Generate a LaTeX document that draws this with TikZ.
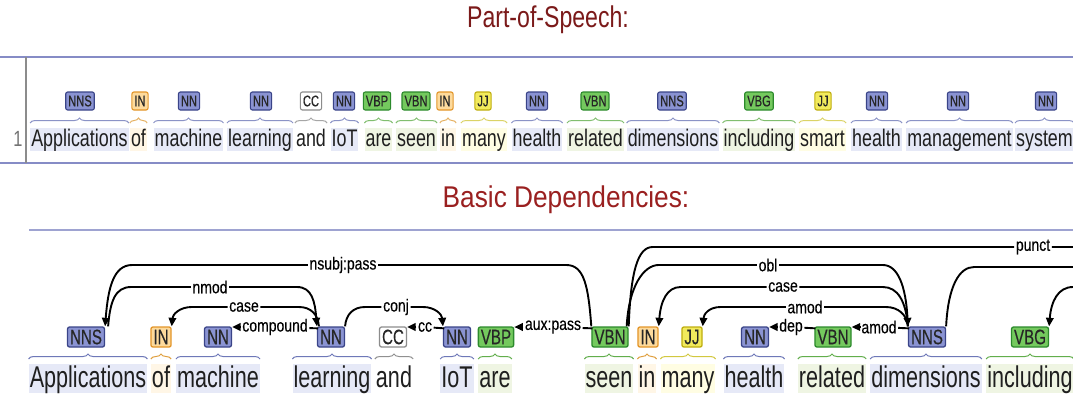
\documentclass[tikz,border=0pt]{standalone}
\usepackage{fontspec}
\setmainfont{Liberation Sans}
\newfontfamily\wordfA[FakeStretch=0.745]{Liberation Sans}
\newfontfamily\wordfB[FakeStretch=0.72]{Liberation Sans}
\newfontfamily\tagfam[FakeStretch=0.72,FakeBold=0.3]{Liberation Sans}
\newfontfamily\lblfam[FakeStretch=0.8,FakeBold=0.3]{Liberation Sans}
\newfontfamily\titfA[FakeStretch=0.77]{Liberation Sans}
\newfontfamily\titfB[FakeStretch=0.875]{Liberation Sans}
\usetikzlibrary{calc,arrows.meta,decorations.pathreplacing}
\definecolor{nnF}{HTML}{8A93D2}\definecolor{nnD}{HTML}{3A4488}
\definecolor{vbF}{HTML}{74C95E}\definecolor{vbD}{HTML}{2C8A2C}
\definecolor{inF}{HTML}{FDDA9C}\definecolor{inD}{HTML}{E3962A}
\definecolor{jjF}{HTML}{F2EA5C}\definecolor{jjD}{HTML}{BFAE10}
\definecolor{ccF}{HTML}{FFFFFF}\definecolor{ccD}{HTML}{8C8C8C}
\definecolor{nnB}{HTML}{E6E9F7}\definecolor{vbB}{HTML}{EFF5E3}
\definecolor{inB}{HTML}{FFF6E6}\definecolor{jjB}{HTML}{FFFDE3}
\definecolor{nnR}{HTML}{6E78B8}\definecolor{vbR}{HTML}{62AE4C}
\definecolor{inR}{HTML}{E0A040}\definecolor{jjR}{HTML}{D2C840}
\definecolor{ccR}{HTML}{909090}
\definecolor{titA}{HTML}{7B1A1A}\definecolor{titB}{HTML}{9A2020}
\definecolor{sepC}{HTML}{868CC6}
\newcommand\Ttok[6]{%
  \node[twA, w#6, anchor=base] (tw#1) at (#2,146) {#3};
  \node[tagA, t#6] (tt#1) at (#4,101) {#5};
  \draw[br, r#6, draw opacity=0.8] (tw#1.west |- topbr) -- (tw#1.east |- topbr);
}
\newcommand\Btok[6]{%
  \node[twB, w#6, anchor=base] (bw#1) at (#2,387) {#3};
  \node[tagB, t#6] (b#1) at (#4,337) {#5};
  \draw[br, r#6] (bw#1.west |- botbr) -- (bw#1.east |- botbr);
}
\begin{document}
\begin{tikzpicture}[x=1pt,y=-1pt,
  tnn/.style={fill=nnF,draw=nnD}, tvb/.style={fill=vbF,draw=vbD},
  tin/.style={fill=inF,draw=inD}, tjj/.style={fill=jjF,draw=jjD},
  tcc/.style={fill=ccF,draw=ccD},
  wnn/.style={fill=nnB}, wvb/.style={fill=vbB}, win/.style={fill=inB},
  wjj/.style={fill=jjB}, wcc/.style={},
  rnn/.style={draw=nnR}, rvb/.style={draw=vbR}, rin/.style={draw=inR},
  rjj/.style={draw=jjR}, rcc/.style={draw=ccR},
  twA/.style={font={\wordfA\fontsize{24}{24}\selectfont}, inner xsep=1pt, inner ysep=0pt, text height=18pt, text depth=5pt, text=black!88},
  twB/.style={font={\wordfB\fontsize{30}{30}\selectfont}, inner xsep=1pt, inner ysep=0pt, text height=23pt, text depth=6pt, text=black!88},
  tagA/.style={rounded corners=2pt, line width=1.1pt, inner xsep=2.5pt, inner ysep=0pt, minimum height=18pt, font={\tagfam\fontsize{15.5}{15.5}\selectfont}, text=black!85},
  tagB/.style={rounded corners=2pt, line width=1.3pt, inner xsep=2.5pt, inner ysep=0pt, minimum height=20pt, font={\tagfam\fontsize{21}{21}\selectfont}, text=black!85},
  br/.style={decorate, decoration={brace, amplitude=5pt}, line width=1pt},
  lbl/.style={font={\lblfam\fontsize{17.5}{17.5}\selectfont}, inner xsep=1.5pt, inner ysep=0pt, fill=white, text=black},
  arc/.style={line width=1.9pt, black},
  arr/.style={arc, -{Triangle[length=8.5pt,width=7.5pt]}},
  sep/.style={line width=2pt, draw=sepC}
]
\useasboundingbox (0,0) rectangle (1073,394);
\fill[white] (0,0) rectangle (1073,394);
% titles
\node[anchor=base, text=titA, font={\titfA\fontsize{30}{30}\selectfont}] (titleA) at (548,27) {Part-of-Speech:};
\node[anchor=base, text=titB, font={\titfB\fontsize{30}{30}\selectfont}] (titleB) at (566,207) {Basic Dependencies:};
% separators
\draw[sep] (0,57) -- (1073,57);
\draw[sep] (0,163) -- (1073,163);
\draw[line width=1.2pt, draw=black!45] (26,57) -- (26,163);
\draw[sep, draw=sepC!80] (29,230) -- (1073,230);
\node[anchor=base, text=black!55, font={\wordfA\fontsize{22}{22}\selectfont}] (rownum) at (18,146) {1};
\coordinate (topbr) at (0,123);
\coordinate (botbr) at (0,359);
% top row
\Ttok{1}{79.5}{Applications}{80}{NNS}{nn}
\Ttok{2}{138.5}{of}{140}{IN}{in}
\Ttok{3}{188.5}{machine}{189}{NN}{nn}
\Ttok{4}{260}{learning}{261}{NN}{nn}
\Ttok{5}{311}{and}{311}{CC}{cc}
\Ttok{6}{344.5}{IoT}{344}{NN}{nn}
\Ttok{7}{378.5}{are}{377}{VBP}{vb}
\Ttok{8}{416.5}{seen}{416}{VBN}{vb}
\Ttok{9}{448}{in}{445}{IN}{in}
\Ttok{10}{484}{many}{483}{JJ}{jj}
\Ttok{11}{537}{health}{537}{NN}{nn}
\Ttok{12}{595.5}{related}{595}{VBN}{vb}
\Ttok{13}{673}{dimensions}{672}{NNS}{nn}
\Ttok{14}{759}{including}{759}{VBG}{vb}
\Ttok{15}{822.5}{smart}{823}{JJ}{jj}
\Ttok{16}{876.5}{health}{877}{NN}{nn}
\Ttok{17}{959.5}{management}{958}{NN}{nn}
\Ttok{18}{1044.5}{system}{1046}{NN}{nn}
% bottom row
\Btok{1}{88}{Applications}{86}{NNS}{nn}
\Btok{2}{161}{of}{161}{IN}{in}
\Btok{3}{218}{machine}{218}{NN}{nn}
\Btok{4}{332}{learning}{331}{NN}{nn}
\Btok{5}{394}{and}{393}{CC}{cc}
\Btok{6}{457}{IoT}{457}{NN}{nn}
\Btok{7}{495}{are}{496}{VBP}{vb}
\Btok{8}{609}{seen}{610}{VBN}{vb}
\Btok{9}{647}{in}{648}{IN}{in}
\Btok{10}{688}{many}{692}{JJ}{jj}
\Btok{11}{754}{health}{755}{NN}{nn}
\Btok{12}{832}{related}{833}{VBN}{vb}
\Btok{13}{926}{dimensions}{927}{NNS}{nn}
\Btok{14}{1030}{including}{1030}{VBG}{vb}
% arc labels
\node[lbl] (lnsubj) at (343,265) {nsubj:pass};
\node[lbl] (lnmod) at (210,287) {nmod};
\node[lbl] (lcaseA) at (244,307) {case};
\node[lbl] (lcomp) at (275,327) {compound};
\node[lbl] (lconj) at (396,307) {conj};
\node[lbl] (lcc) at (425,327) {cc};
\node[lbl] (laux) at (553,327) {aux:pass};
\node[lbl] (lpunct) at (1033,247) {punct};
\node[lbl] (lobl) at (768,265) {obl};
\node[lbl] (lcaseB) at (783,287) {case};
\node[lbl] (lamodA) at (805,307) {amod};
\node[lbl] (lamodB) at (879,327) {amod};
\node[lbl] (ldep) at (791,327) {dep};
\coordinate (pR) at (1073,247);
\coordinate (nR) at (1073,267);
\coordinate (oR) at (1073,287);
% nsubj:pass
\draw[arc] (b8.north west) .. controls +(-3,-40) and +(18,0) .. ($(b8.north west |- lnsubj)+(-25,0)$) -- (lnsubj);
\draw[arr] (lnsubj) -- ($(b1.north east |- lnsubj)+(27,0)$) .. controls +(-18,0) and +(3,-40) .. (b1.north east);
% nmod
\draw[arc] ($(b1.north east)+(3,0)$) .. controls +(2,-25) and +(-16,0) .. ($(b1.north east |- lnmod)+(26,0)$) -- (lnmod);
\draw[arr] (lnmod) -- ($(b4.north west |- lnmod)+(-20,0)$) .. controls +(15,0) and +(-2,-25) .. (b4.north west);
% case (left)
\draw[arc] ($(b4.north west)+(2,0)$) .. controls +(-1,-12) and +(12,0) .. ($(b4.north west |- lcaseA)+(-18,0)$) -- (lcaseA);
\draw[arr] (lcaseA) -- ($(b2.north east |- lcaseA)+(20,0)$) .. controls +(-12,0) and +(1,-12) .. (b2.north east);
% compound
\draw[arc] ($(b4.north west)+(1,2)$) -- (lcomp);
\draw[arr] (lcomp) -- (lcomp -| b3.east);
% conj
\draw[arc] (b4.north east) .. controls +(1,-12) and +(-12,0) .. ($(b4.north east |- lconj)+(20,0)$) -- (lconj);
\draw[arr] (lconj) -- ($(b6.north west |- lconj)+(-20,0)$) .. controls +(12,0) and +(-1,-12) .. (b6.north west);
% cc
\draw[arc] ($(b6.north west)+(1,2)$) -- (lcc);
\draw[arr] (lcc) -- (lcc -| b5.east);
% aux:pass
\draw[arc] ($(b8.north west)+(1,2)$) -- (laux);
\draw[arr] (laux) -- (laux -| b7.east);
% punct
\draw[arc] (b8.north east) .. controls +(2,-55) and +(-15,0) .. ($(b8.north east |- lpunct)+(24,0)$) -- (lpunct) -- (pR);
% obl
\draw[arc] ($(b8.north east)+(-2,0)$) .. controls +(2,-40) and +(-15,0) .. ($(b8.north east |- lobl)+(30,0)$) -- (lobl);
\draw[arr] (lobl) -- ($(b13.north west |- lobl)+(-25,0)$) .. controls +(15,0) and +(-2,-40) .. (b13.north west);
% case (right)
\draw[arc] (b13.north west) .. controls +(-2,-25) and +(15,0) .. ($(b13.north west |- lcaseB)+(-25,0)$) -- (lcaseB);
\draw[arr] (lcaseB) -- ($(b9.north east |- lcaseB)+(22,0)$) .. controls +(-14,0) and +(2,-25) .. (b9.north east);
% amod (many)
\draw[arc] (b13.north west) .. controls +(-1,-12) and +(12,0) .. ($(b13.north west |- lamodA)+(-22,0)$) -- (lamodA);
\draw[arr] (lamodA) -- ($(b10.north east |- lamodA)+(18,0)$) .. controls +(-12,0) and +(1,-12) .. (b10.north east);
% amod (related)
\draw[arc] ($(b13.north west)+(1,2)$) -- (lamodB);
\draw[arr] (lamodB) -- (lamodB -| b12.east);
% dep
\draw[arc] ($(b12.north west)+(1,2)$) -- (ldep);
\draw[arr] (ldep) -- (ldep -| b11.east);
% arcs leaving the picture on the right
\draw[arc] (b13.north east) .. controls +(2,-40) and +(-15,0) .. ($(b13.north east |- nR)+(28,0)$) -- (nR);
\draw[arr] (oR) .. controls +(-15,0) and +(2,-25) .. (b14.north east);
\end{tikzpicture}
\end{document}
